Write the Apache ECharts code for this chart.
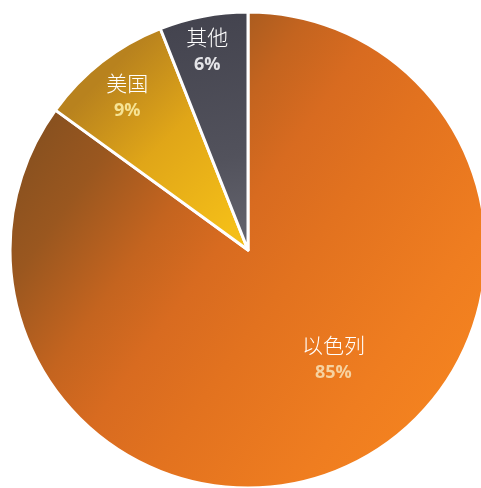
<!DOCTYPE html>
<html>
<head>
<meta charset="utf-8">
<script src="https://cdn.jsdelivr.net/npm/echarts@6/dist/echarts.min.js"></script>
<style>
  html, body { margin: 0; padding: 0; background: #ffffff; }
  #chart { width: 481px; height: 488px; }
</style>
</head>
<body>
<div id="chart"></div>
<script>
// Share of the total, by country
const categories = ['以色列', '美国', '其他'];
const shares = [85, 9, 6];

// Gradient stops of each slice fill
const sliceStops = [
  [[0, '#86501f'], [0.14, '#9a571f'], [0.3, '#c4641f'], [0.42, '#d86b20'],
   [0.56, '#e2721f'], [0.8, '#ef7d20'], [1, '#f6851f']],
  [[0, '#b8821e'], [0.45, '#e0a618'], [1, '#f4be18']],
  [[0, '#44444f'], [0.6, '#52525c'], [1, '#66666f']]
];
// Gradient line of each slice: x1, y1, x2, y2 in pixels
const sliceGrad = [
  [30, 130, 460, 440],
  [90, 90, 230, 230],
  [200, 20, 240, 250]
];
// Percent text colour per slice
const pctColors = ['#f6d2a0', '#f6e394', '#e4e4e8'];
// Nudges of each label from the default inside position
const labelShift = [[30, 0], [-46, -57], [-18, -79]];

const cx = 248, cy = 250, R = 238;

const chart = echarts.init(document.getElementById('chart'));

const data = categories.map((name, i) => ({
  name: name,
  value: shares[i],
  itemStyle: {
    color: new echarts.graphic.LinearGradient(
      sliceGrad[i][0], sliceGrad[i][1], sliceGrad[i][2], sliceGrad[i][3],
      sliceStops[i].map(s => ({ offset: s[0], color: s[1] })),
      true
    )
  },
  label: {
    rich: {
      p: { color: pctColors[i] }
    }
  }
}));

chart.setOption({
  backgroundColor: '#ffffff',
  animation: false,
  series: [{
    type: 'pie',
    center: [cx, cy],
    radius: [0, R],
    startAngle: 90,
    clockwise: true,
    avoidLabelOverlap: false,
    itemStyle: {
      borderColor: '#ffffff',
      borderWidth: 3
    },
    label: {
      show: true,
      position: 'inside',
      formatter: '{n|{b}}\n{p|{c}%}',
      rich: {
        n: {
          fontFamily: '"Noto Sans CJK SC", sans-serif',
          fontSize: 21,
          fontWeight: 300,
          color: '#ffffff',
          lineHeight: 28,
          align: 'center'
        },
        p: {
          fontFamily: '"Open Sans", "Liberation Sans", sans-serif',
          fontSize: 18,
          fontWeight: 'bold',
          lineHeight: 28,
          align: 'center'
        }
      }
    },
    labelLayout: function (params) {
      const s = labelShift[params.dataIndex];
      return { dx: s[0], dy: s[1] };
    },
    labelLine: { show: false },
    data: data
  }]
});
</script>
</body>
</html>
